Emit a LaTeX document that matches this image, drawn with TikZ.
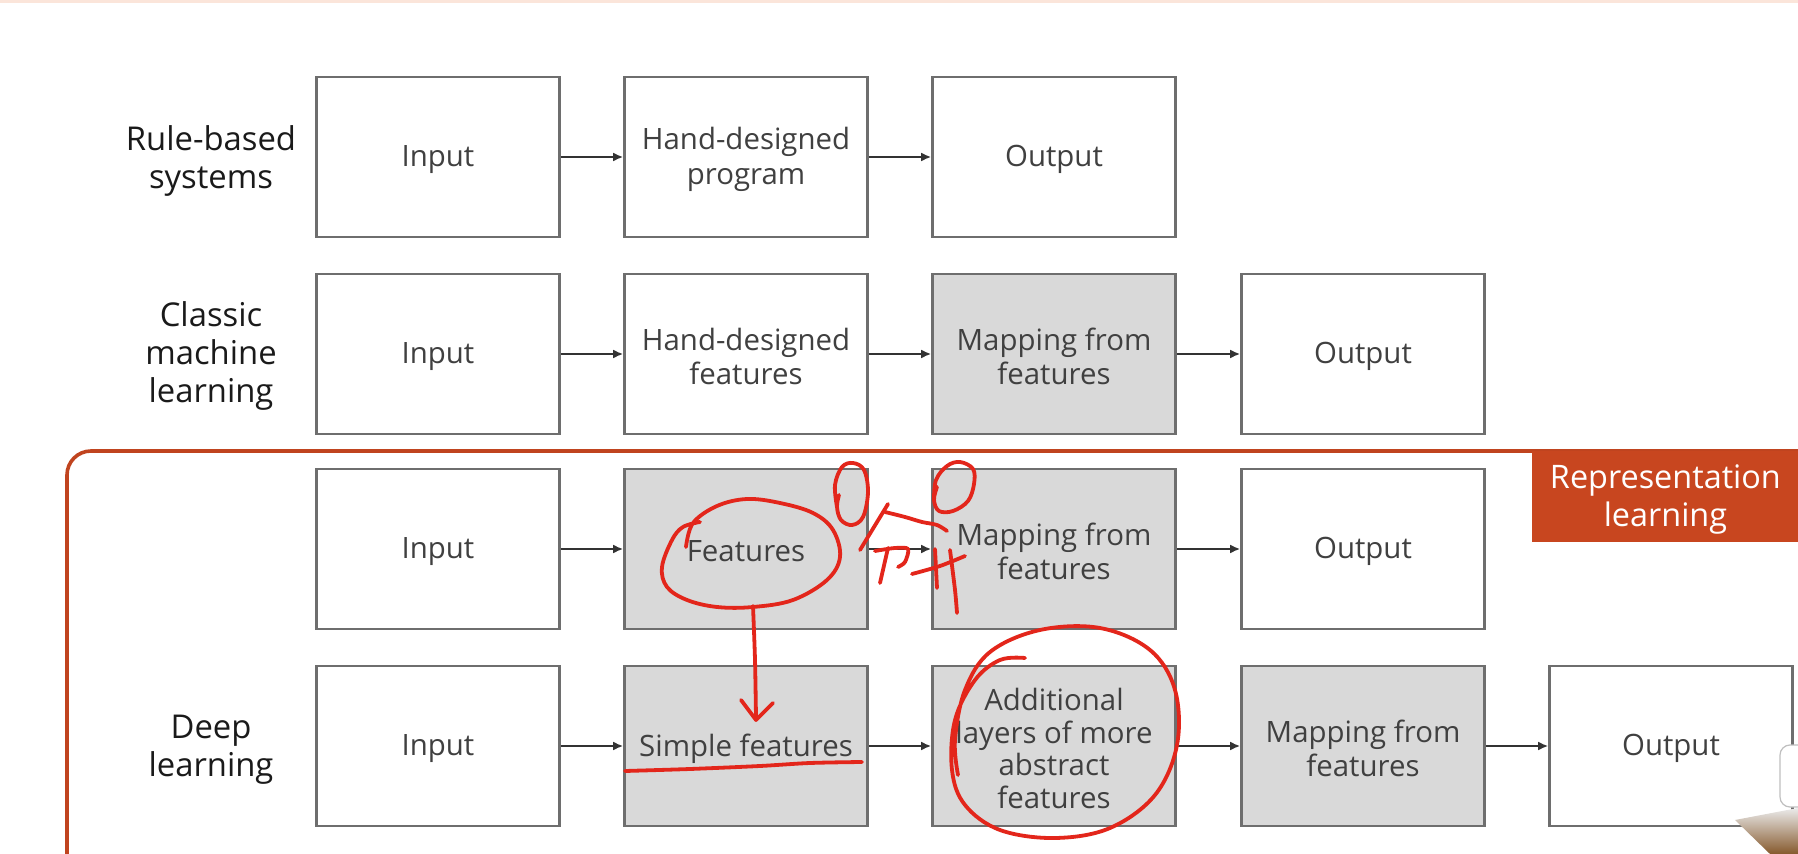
\documentclass[tikz,border=0pt]{standalone}
\usepackage{fontspec}
\setmainfont{Open Sans}
\usetikzlibrary{arrows.meta}
\definecolor{boxline}{HTML}{6E6E6E}
\definecolor{boxfill}{HTML}{D9D9D9}
\definecolor{boxtext}{HTML}{404040}
\definecolor{labtext}{HTML}{1A1A1A}
\definecolor{frameor}{HTML}{C0441F}
\definecolor{labelor}{HTML}{C8461F}
\definecolor{arrcol}{HTML}{333333}
\definecolor{pen}{HTML}{E3261B}
\definecolor{peach}{HTML}{FBE5DA}
\tikzset{
  box/.style={draw=boxline, line width=1.3pt, minimum width=121.5pt, minimum height=80pt,
    inner sep=0pt},
  shaded/.style={box, fill=boxfill},
  plain/.style={box, fill=white},
  btext/.style={text=boxtext, align=center, inner sep=0pt, yshift=-1.2pt,
    font=\fontsize{14.7pt}{17.4pt}\selectfont},
  btextdense/.style={btext, font=\fontsize{14.7pt}{16.4pt}\selectfont},
  rowlab/.style={text=labtext, align=center, font=\fontsize{16.4pt}{19pt}\selectfont},
  arr/.style={draw=arrcol, line width=1.1pt, -{Latex[length=5pt,width=4.5pt]}},
  inkpen/.style={draw=pen, line width=1.9pt, line cap=round, line join=round},
}
\begin{document}
\begin{tikzpicture}[x=0.5pt, y=-0.5pt]
\useasboundingbox (0,0) rectangle (1798,854);
\clip (0,0) rectangle (1798,854);
\fill[white] (0,0) rectangle (1798,854);
\fill[peach] (0,0) rectangle (1798,3);
% representation learning frame
\draw[draw=frameor, line width=1.8pt, rounded corners=12pt] (67,451) rectangle (1900,940);
\node[fill=labelor, minimum width=133pt, minimum height=45.5pt, inner sep=0pt, anchor=north west] (rep) at (1532,451) {};
\node[text=white, align=center, font=\fontsize{16.2pt}{19pt}\selectfont, yshift=-1.5pt] (reptext) at (rep.center)
  {Representation\\learning};
% row labels
\node[rowlab] (l1) at (211,161) {Rule-based\\systems};
\node[rowlab] (l2) at (211,356) {Classic\\machine\\learning};
\node[rowlab] (l4) at (211,750) {Deep\\learning};
% row 1
\node[plain, label={[btext]center:Input}] (a1) at (438,157) {};
\node[plain, label={[btext]center:Hand-designed\\program}] (a2) at (746,157) {};
\node[plain, label={[btext]center:Output}] (a3) at (1054,157) {};
% row 2
\node[plain, label={[btext]center:Input}] (b1) at (438,354) {};
\node[plain, label={[btext]center:Hand-designed\\features}] (b2) at (746,354) {};
\node[shaded, label={[btext]center:Mapping from\\features}] (b3) at (1054,354) {};
\node[plain, label={[btext]center:Output}] (b4) at (1363,354) {};
% row 3
\node[plain, label={[btext]center:Input}] (c1) at (438,549) {};
\node[shaded, label={[btext]center:Features}] (c2) at (746,549) {};
\node[shaded, label={[btext]center:Mapping from\\features}] (c3) at (1054,549) {};
\node[plain, label={[btext]center:Output}] (c4) at (1363,549) {};
% row 4
\node[plain, label={[btext]center:Input}] (d1) at (438,746) {};
\node[shaded, label={[btext]center:Simple features}] (d2) at (746,746) {};
\node[shaded, label={[btextdense]center:Additional\\layers of more\\abstract\\features}] (d3) at (1054,746) {};
\node[shaded, label={[btext]center:Mapping from\\features}] (d4) at (1363,746) {};
\node[plain, label={[btext]center:Output}] (d5) at (1671,746) {};
% arrows
\draw[arr] (a1) -- (a2); \draw[arr] (a2) -- (a3);
\draw[arr] (b1) -- (b2); \draw[arr] (b2) -- (b3); \draw[arr] (b3) -- (b4);
\draw[arr] (c1) -- (c2); \draw[arr] (c2) -- (c3); \draw[arr] (c3) -- (c4);
\draw[arr] (d1) -- (d2); \draw[arr] (d2) -- (d3); \draw[arr] (d3) -- (d4); \draw[arr] (d4) -- (d5);
% red pen annotations
\draw[inkpen] plot[smooth, tension=0.6] coordinates {(700,522) (683,527) (672,540) (662,567) (667,587) (687,600) (717,607) (753,607) (793,600) (827,580) (840,557) (833,530) (813,513) (780,503) (747,499) (717,506) (693,523) (686,547)};
\draw[inkpen] plot[smooth] coordinates {(753,606) (755,660) (756,718)};
\draw[inkpen] (741,700) -- (756,720) -- (773,703);
\draw[inkpen] plot[smooth] coordinates {(625,771) (690,769) (760,766) (810,763) (862,762)};
\draw[inkpen] plot[smooth, tension=0.6] coordinates {(1025,658) (1000,660) (975,680) (955,720) (952,770) (965,805) (1000,830) (1055,838) (1110,828) (1155,795) (1177,745) (1175,690) (1150,650) (1100,628) (1040,630) (990,652) (965,690) (955,740) (958,775)};
% handwriting
\draw[inkpen] plot[smooth, tension=0.6] coordinates {(837,507) (835,485) (842,467) (853,463) (864,470) (868,492) (863,517) (852,525) (841,520) (837,507) (839,495)};
\draw[inkpen] plot[smooth, tension=0.6] coordinates {(934,500) (936,480) (947,466) (960,462) (973,469) (974,484) (968,501) (953,511) (939,511) (934,500) (937,487)};
\draw[inkpen] (860,550) -- (888,504);
\draw[inkpen] plot[smooth] coordinates {(885,512) (905,517) (922,522) (937,525) (947,531)};
\draw[inkpen] (880,583) -- (888,548);
\draw[inkpen] plot[smooth] coordinates {(875,551) (895,548) (908,549) (905,562) (898,567)};
\draw[inkpen] plot[smooth] coordinates {(912,574) (940,566) (965,556)};
\draw[inkpen] (935,549) -- (937,588);
\draw[inkpen] plot[smooth] coordinates {(950,550) (955,590) (957,613)};
% screen artifacts bottom right
\draw[draw=black!25, fill=white, rounded corners=5pt, line width=0.6pt] (1780,745) rectangle (1810,807);
\shade[left color=black!8, right color=brown!70!black, shading angle=0] (1735,820) -- (1798,808) -- (1798,854) -- (1770,854) -- cycle;
\end{tikzpicture}
\end{document}
